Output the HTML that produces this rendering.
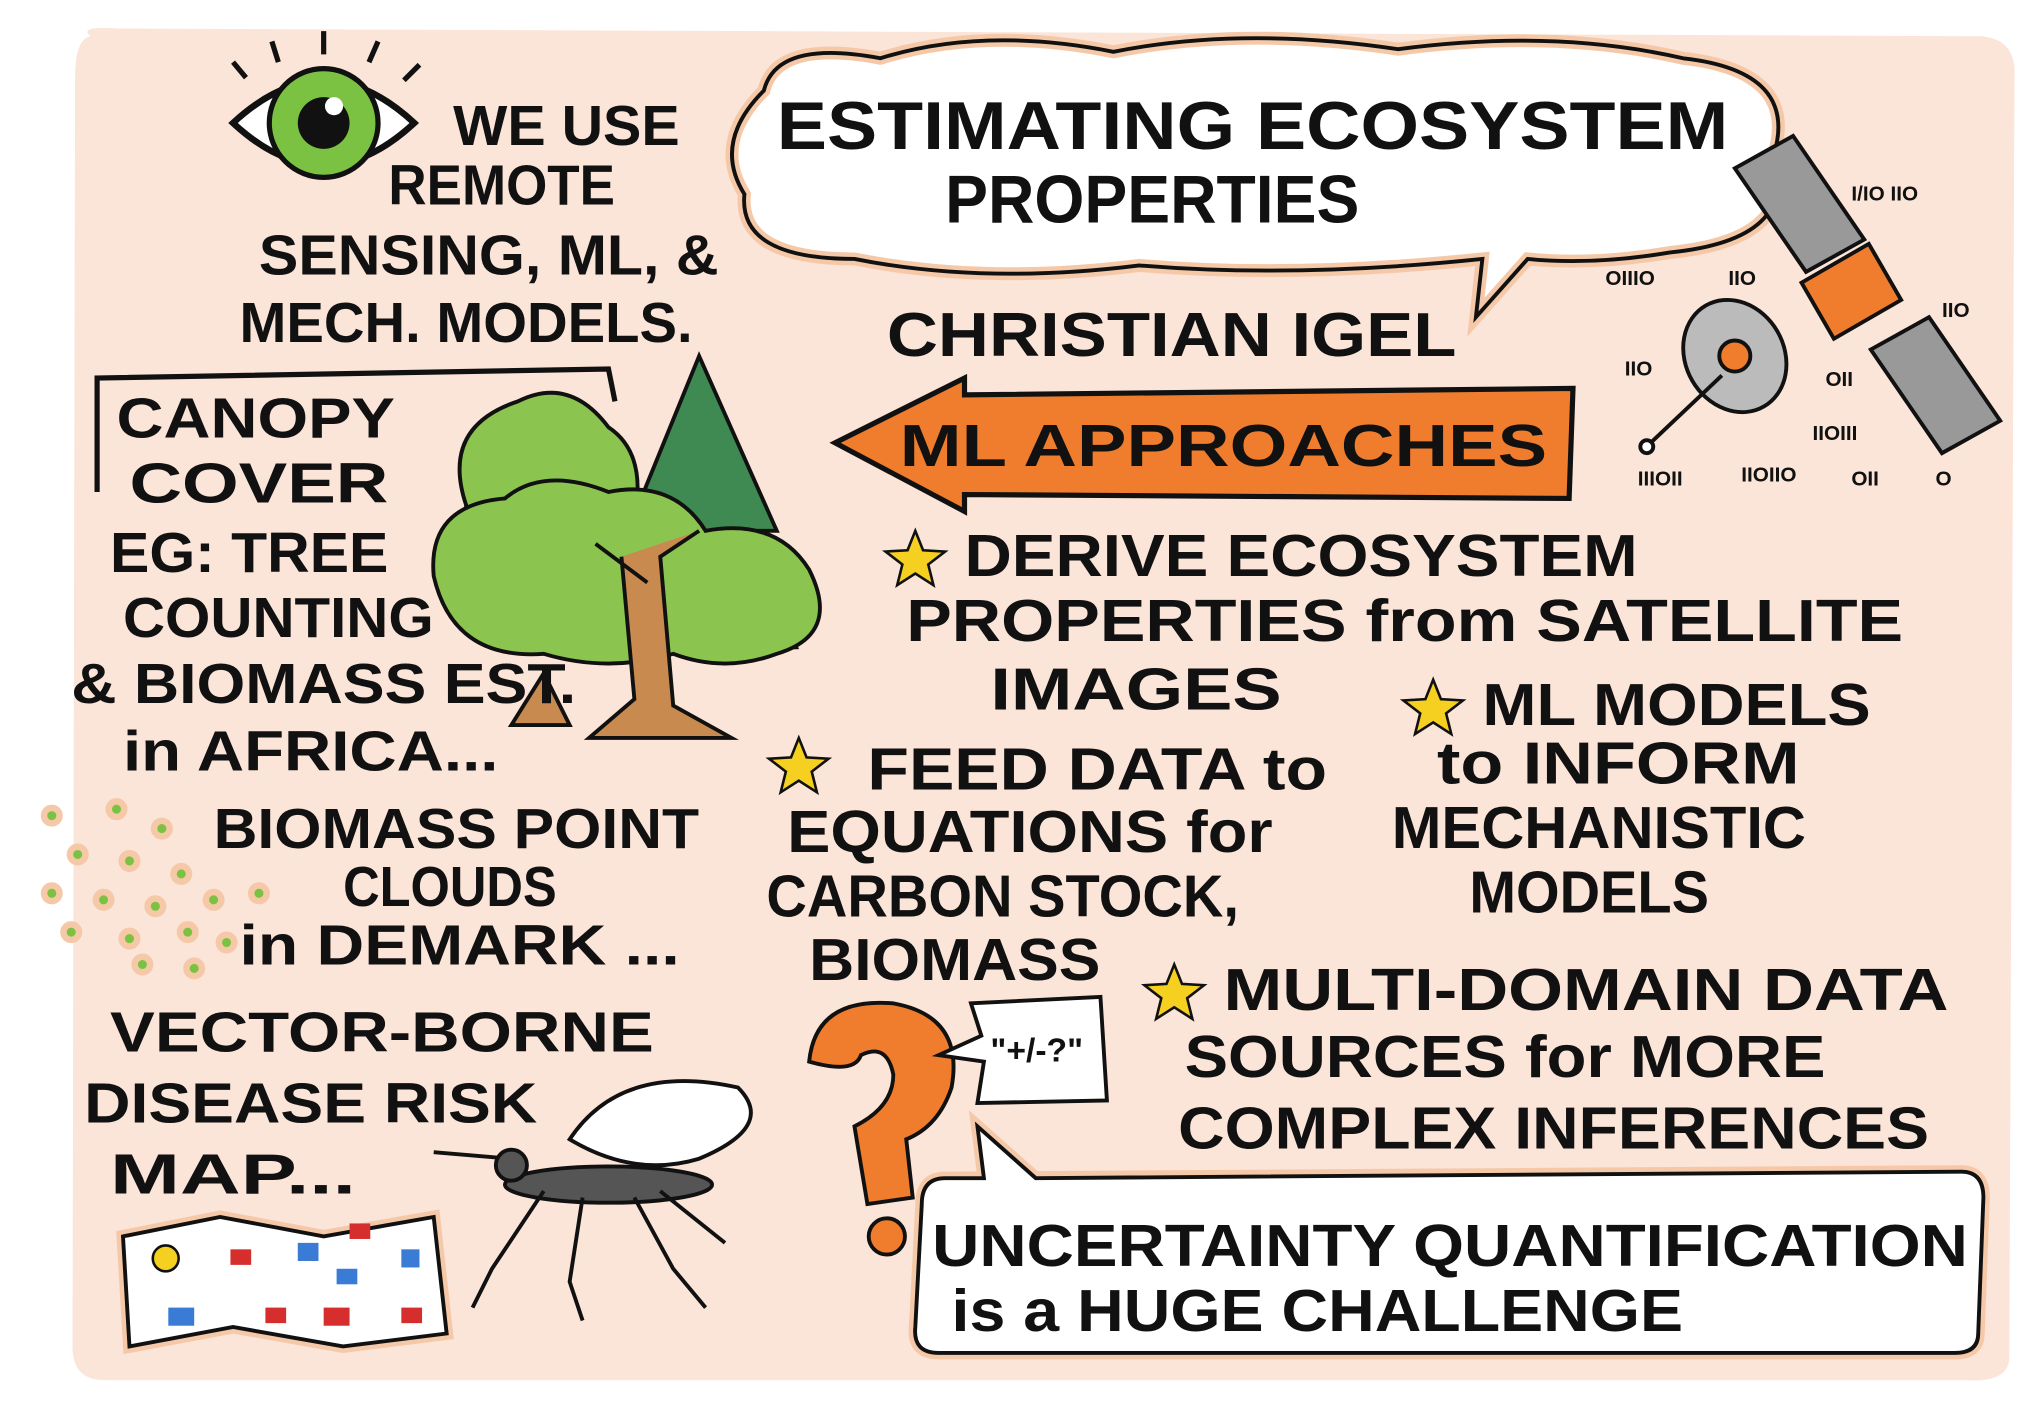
<!DOCTYPE html>
<html><head><meta charset="utf-8">
<style>
html,body{margin:0;padding:0;background:#fff;}
svg{display:block;}
text{font-family:"Liberation Sans",sans-serif;font-weight:bold;fill:#111;}
</style></head>
<body>
<svg width="2030" height="1406" viewBox="0 0 1568 1086" xmlns="http://www.w3.org/2000/svg">
<rect x="0" y="0" width="1568" height="1086" fill="#fff"/>
<path d="M70 28 Q60 20 90 22 L1530 28 Q1558 30 1556 60 L1552 1050 Q1550 1068 1520 1066 L80 1066 Q56 1066 56 1040 L58 60 Q58 30 70 28Z" fill="#fbe4d8"/>

<!-- eye -->
<g>
<path d="M180 95 Q250 30 320 95 Q250 160 180 95Z" fill="#fff" stroke="#111" stroke-width="5"/>
<circle cx="250" cy="95" r="42" fill="#7cc242" stroke="#111" stroke-width="4"/>
<circle cx="250" cy="95" r="20" fill="#111"/>
<circle cx="258" cy="82" r="7" fill="#fff"/>
<path d="M190 60 L180 48 M215 48 L210 32 M250 42 L250 24 M285 48 L292 32 M312 62 L324 50" stroke="#111" stroke-width="4"/>
</g>

<g font-size="44">
<text x="350" y="112" textLength="175" lengthAdjust="spacingAndGlyphs">WE USE</text>
<text x="300" y="158" textLength="175" lengthAdjust="spacingAndGlyphs">REMOTE</text>
<text x="200" y="212" textLength="355" lengthAdjust="spacingAndGlyphs">SENSING, ML, &amp;</text>
<text x="185" y="264" textLength="350" lengthAdjust="spacingAndGlyphs">MECH. MODELS.</text>
</g>

<!-- title cloud -->
<path d="M590 70 Q600 30 680 45 Q760 20 860 40 Q960 20 1080 38 Q1200 22 1300 45 Q1390 55 1370 120 Q1390 185 1290 195 Q1230 205 1180 200 L1140 245 L1145 200 Q1000 215 880 205 Q760 220 660 200 Q570 200 575 150 Q550 110 590 70Z" fill="#fff" stroke="#f5c9a8" stroke-width="10"/>
<path d="M590 70 Q600 30 680 45 Q760 20 860 40 Q960 20 1080 38 Q1200 22 1300 45 Q1390 55 1370 120 Q1390 185 1290 195 Q1230 205 1180 200 L1140 245 L1145 200 Q1000 215 880 205 Q760 220 660 200 Q570 200 575 150 Q550 110 590 70Z" fill="none" stroke="#111" stroke-width="3"/>
<text x="600" y="115" font-size="52" textLength="735" lengthAdjust="spacingAndGlyphs">ESTIMATING ECOSYSTEM</text>
<text x="730" y="172" font-size="52" textLength="320" lengthAdjust="spacingAndGlyphs">PROPERTIES</text>
<text x="685" y="275" font-size="48" textLength="440" lengthAdjust="spacingAndGlyphs">CHRISTIAN IGEL</text>

<!-- arrow -->
<path d="M645 342 L745 292 L745 305 L1215 300 L1212 385 L745 382 L745 395Z" fill="#ef7d2d" stroke="#111" stroke-width="4"/>
<text x="695" y="360" font-size="46" textLength="500" lengthAdjust="spacingAndGlyphs">ML APPROACHES</text>

<!-- satellite -->
<g stroke="#111" stroke-width="3">
<polygon points="1340,130 1385,105 1440,185 1395,210" fill="#999"/>
<polygon points="1445,270 1490,245 1545,325 1500,350" fill="#999"/>
<rect x="1400" y="200" width="60" height="50" fill="#ef7d2d" transform="rotate(-30 1430 225)"/>
<ellipse cx="1340" cy="275" rx="38" ry="45" fill="#bbb" transform="rotate(-30 1340 275)"/>
<circle cx="1340" cy="275" r="12" fill="#ef7d2d"/>
<line x1="1330" y1="290" x2="1275" y2="342"/>
<circle cx="1272" cy="345" r="5" fill="#fff"/>
</g>
<g font-size="16">
<text x="1430" y="155">I/IO IIO</text><text x="1240" y="220">OIIIO</text><text x="1335" y="220">IIO</text>
<text x="1500" y="245">IIO</text><text x="1255" y="290">IIO</text><text x="1410" y="298">OII</text>
<text x="1400" y="340">IIOIII</text><text x="1265" y="375">IIIOII</text><text x="1345" y="372">IIOIIO</text><text x="1430" y="375">OII</text><text x="1495" y="375">O</text>
</g>

<!-- bracket -->
<path d="M75 380 L75 292 L470 285 L475 310" fill="none" stroke="#111" stroke-width="4"/>

<!-- trees -->
<g stroke="#111" stroke-width="3">
<polygon points="540,275 600,410 580,410 615,500 470,505 500,410 485,410" fill="#3f8a52"/>
<path d="M360 390 Q340 330 400 310 Q440 290 470 330 Q500 350 490 400 Q470 430 420 430 Q360 440 360 390Z" fill="#8cc450"/>
<path d="M335 445 Q330 390 390 385 Q420 360 470 380 Q520 370 545 410 Q600 400 625 440 Q650 490 600 505 Q560 520 520 505 Q470 520 420 505 Q350 510 335 445Z" fill="#8cc450"/>
<path d="M480 430 L490 540 L455 570 L565 570 L520 545 L510 430 L540 410 M500 450 L460 420" fill="#c98a4f"/>
<path d="M395 560 L420 520 L440 560Z" fill="#c98a4f"/>
</g>

<g font-size="44">
<text x="90" y="338" textLength="215" lengthAdjust="spacingAndGlyphs">CANOPY</text>
<text x="100" y="388" textLength="200" lengthAdjust="spacingAndGlyphs">COVER</text>
<text x="85" y="442" textLength="215" lengthAdjust="spacingAndGlyphs">EG: TREE</text>
<text x="95" y="492" textLength="240" lengthAdjust="spacingAndGlyphs">COUNTING</text>
<text x="55" y="543" textLength="390" lengthAdjust="spacingAndGlyphs">&amp; BIOMASS EST.</text>
<text x="95" y="595" textLength="290" lengthAdjust="spacingAndGlyphs">in AFRICA...</text>

<text x="165" y="655" textLength="375" lengthAdjust="spacingAndGlyphs">BIOMASS POINT</text>
<text x="265" y="700" textLength="165" lengthAdjust="spacingAndGlyphs">CLOUDS</text>
<text x="185" y="745" textLength="340" lengthAdjust="spacingAndGlyphs">in DEMARK ...</text>

<text x="85" y="812" textLength="420" lengthAdjust="spacingAndGlyphs">VECTOR-BORNE</text>
<text x="65" y="867" textLength="350" lengthAdjust="spacingAndGlyphs">DISEASE RISK</text>
<text x="85" y="922" textLength="190" lengthAdjust="spacingAndGlyphs">MAP...</text>
</g>

<!-- dots -->
<g fill="#7cc242" stroke="#f5c9a8" stroke-width="5">
<circle cx="40" cy="630" r="6"/><circle cx="90" cy="625" r="6"/><circle cx="125" cy="640" r="6"/><circle cx="60" cy="660" r="6"/>
<circle cx="100" cy="665" r="6"/><circle cx="140" cy="675" r="6"/><circle cx="40" cy="690" r="6"/><circle cx="80" cy="695" r="6"/>
<circle cx="120" cy="700" r="6"/><circle cx="165" cy="695" r="6"/><circle cx="200" cy="690" r="6"/><circle cx="55" cy="720" r="6"/>
<circle cx="100" cy="725" r="6"/><circle cx="145" cy="720" r="6"/><circle cx="175" cy="728" r="6"/><circle cx="110" cy="745" r="6"/><circle cx="150" cy="748" r="6"/>
</g>

<!-- map -->
<g>
<polygon points="95,955 170,940 250,955 335,940 345,1030 265,1040 180,1025 100,1040" fill="#fff" stroke="#f5c9a8" stroke-width="10"/>
<polygon points="95,955 170,940 250,955 335,940 345,1030 265,1040 180,1025 100,1040" fill="#fff" stroke="#111" stroke-width="3"/>
<rect x="178" y="965" width="16" height="12" fill="#d62d2d"/><rect x="230" y="960" width="16" height="14" fill="#3a7bd5"/>
<rect x="270" y="945" width="16" height="12" fill="#d62d2d"/><rect x="310" y="965" width="14" height="14" fill="#3a7bd5"/>
<rect x="260" y="980" width="16" height="12" fill="#3a7bd5"/><rect x="130" y="1010" width="20" height="14" fill="#3a7bd5"/>
<rect x="205" y="1010" width="16" height="12" fill="#d62d2d"/><rect x="250" y="1010" width="20" height="14" fill="#d62d2d"/>
<rect x="310" y="1010" width="16" height="12" fill="#d62d2d"/><circle cx="128" cy="972" r="10" fill="#f5d020" stroke="#111" stroke-width="2"/>
</g>

<!-- mosquito -->
<g stroke="#111" stroke-width="3">
<path d="M440 880 Q480 820 570 840 Q600 870 540 895 Q490 910 440 880Z" fill="#fff"/>
<path d="M335 890 L395 895" fill="none"/>
<ellipse cx="470" cy="915" rx="80" ry="14" fill="#555"/>
<path d="M420 920 L380 980 L365 1010 M450 925 L440 990 L450 1020 M490 925 L520 980 L545 1010 M510 920 L560 960" fill="none"/>
<circle cx="395" cy="900" r="12" fill="#555"/>
</g>

<!-- stars -->
<g fill="#f5d020" stroke="#111" stroke-width="2">
<polygon points="707,410 713,425 730,426 717,436 721,452 707,443 693,452 697,436 684,426 701,425"/>
<polygon points="1107,525 1113,540 1130,541 1117,551 1121,567 1107,558 1093,567 1097,551 1084,541 1101,540"/>
<polygon points="617,570 623,585 640,586 627,596 631,612 617,603 603,612 607,596 594,586 611,585"/>
<polygon points="907,745 913,760 930,761 917,771 921,787 907,778 893,787 897,771 884,761 901,760"/>
</g>

<g font-size="46">
<text x="745" y="445" textLength="520" lengthAdjust="spacingAndGlyphs">DERIVE ECOSYSTEM</text>
<text x="700" y="495" textLength="770" lengthAdjust="spacingAndGlyphs">PROPERTIES from SATELLITE</text>
<text x="765" y="548" textLength="225" lengthAdjust="spacingAndGlyphs">IMAGES</text>

<text x="1145" y="560" textLength="300" lengthAdjust="spacingAndGlyphs">ML MODELS</text>
<text x="1110" y="605" textLength="280" lengthAdjust="spacingAndGlyphs">to INFORM</text>
<text x="1075" y="655" textLength="320" lengthAdjust="spacingAndGlyphs">MECHANISTIC</text>
<text x="1135" y="705" textLength="185" lengthAdjust="spacingAndGlyphs">MODELS</text>

<text x="670" y="610" textLength="355" lengthAdjust="spacingAndGlyphs">FEED DATA to</text>
<text x="608" y="658" textLength="375" lengthAdjust="spacingAndGlyphs">EQUATIONS for</text>
<text x="592" y="708" textLength="365" lengthAdjust="spacingAndGlyphs">CARBON STOCK,</text>
<text x="625" y="757" textLength="225" lengthAdjust="spacingAndGlyphs">BIOMASS</text>

<text x="945" y="780" textLength="560" lengthAdjust="spacingAndGlyphs">MULTI-DOMAIN DATA</text>
<text x="915" y="832" textLength="495" lengthAdjust="spacingAndGlyphs">SOURCES for MORE</text>
<text x="910" y="887" textLength="580" lengthAdjust="spacingAndGlyphs">COMPLEX INFERENCES</text>
</g>

<!-- question mark -->
<g stroke="#111" stroke-width="3">
<path d="M625 820 Q630 770 690 775 Q745 785 735 840 Q725 870 700 880 L705 925 L670 930 L660 870 Q690 855 690 830 Q685 805 665 815 Q660 830 625 820Z" fill="#ef7d2d"/>
<circle cx="685" cy="955" r="14" fill="#ef7d2d"/>
<path d="M750 775 L850 770 L855 850 L755 852 L760 820 L725 815 L758 800Z" fill="#fff"/>
<text x="765" y="820" font-size="26" stroke="none">"+/-?"</text>
</g>

<!-- uncertainty bubble -->
<path d="M730 910 L1515 905 Q1532 905 1532 925 L1528 1030 Q1528 1045 1510 1045 L725 1045 Q705 1045 707 1025 L712 930 Q712 910 730 910 M760 910 L755 870 L800 910" fill="#fff" stroke="#f5c9a8" stroke-width="10"/>
<path d="M730 910 L760 910 L755 870 L800 910 L1515 905 Q1532 905 1532 925 L1528 1030 Q1528 1045 1510 1045 L725 1045 Q705 1045 707 1025 L712 930 Q712 910 730 910Z" fill="#fff" stroke="#111" stroke-width="3"/>
<text x="720" y="978" font-size="46" textLength="800" lengthAdjust="spacingAndGlyphs">UNCERTAINTY QUANTIFICATION</text>
<text x="735" y="1028" font-size="46" textLength="565" lengthAdjust="spacingAndGlyphs">is a HUGE CHALLENGE</text>
</svg>
</body></html>
